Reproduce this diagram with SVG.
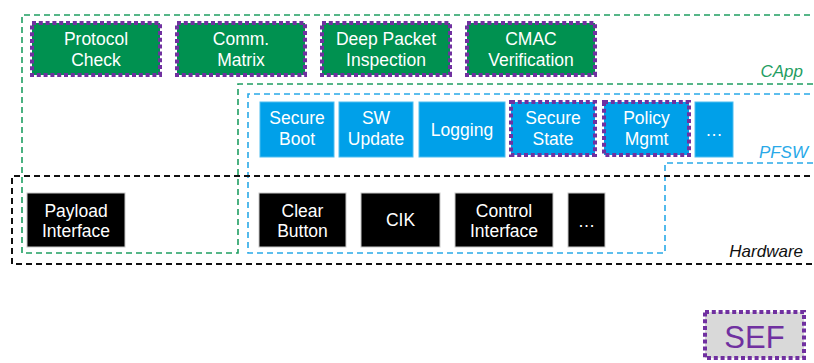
<svg xmlns="http://www.w3.org/2000/svg" width="814" height="363" viewBox="0 0 814 363">
<style>
.bg{fill:#fff}
.lyr{fill:none;stroke-dasharray:6 4}
.capp{stroke:#1f9e62;stroke-width:1.6}
.pfsw{stroke:#29a9e8;stroke-width:1.6}
.hw{stroke:#111;stroke-width:2}
.green{fill:#009150}
.blue{fill:#00a0e9;stroke:#4cbdf0;stroke-width:1}
.black{fill:#000;stroke:#c8c8c8;stroke-width:1}
.sef{stroke:#7030a0;stroke-width:4;stroke-dasharray:4 2.8}
.t{font-family:"Liberation Sans",Arial,sans-serif;font-size:17.5px;fill:#fff;text-anchor:middle}
.lbl{font-family:"Liberation Sans",Arial,sans-serif;font-size:17px;font-style:italic;text-anchor:end}
</style>
<rect class="bg" x="0" y="0" width="814" height="363"/>
<g id="layers">
<path id="capp-area" class="lyr capp" d="M820,15 H22 V253 H238 V84 H820"/>
<path id="pfsw-area" class="lyr pfsw" d="M820,94 H248 V253 H665 V163 H820"/>
<path id="hw-area" class="lyr hw" d="M820,176 H12 V264 H820"/>
<text class="lbl" x="803" y="77" fill="#1f9e62">CApp</text>
<text class="lbl" x="808" y="158" fill="#29a9e8">PFSW</text>
<text class="lbl" x="803" y="257" fill="#111">Hardware</text>
</g>
<g id="connectors"></g>
<g id="protocol-check"><rect class="green sef" x="32" y="23" width="128" height="52"/><text class="t" x="96" y="45">Protocol</text><text class="t" x="96" y="66">Check</text></g>
<g id="comm-matrix"><rect class="green sef" x="177" y="23" width="128" height="52"/><text class="t" x="241" y="45">Comm.</text><text class="t" x="241" y="66">Matrix</text></g>
<g id="dpi"><rect class="green sef" x="322" y="23" width="128" height="52"/><text class="t" x="386" y="45">Deep Packet</text><text class="t" x="386" y="66">Inspection</text></g>
<g id="cmac"><rect class="green sef" x="467" y="23" width="128" height="52"/><text class="t" x="531" y="45">CMAC</text><text class="t" x="531" y="66">Verification</text></g>
<g id="secure-boot"><rect class="blue" x="260" y="102" width="74" height="55"/><text class="t" x="297" y="124">Secure</text><text class="t" x="297" y="145">Boot</text></g>
<g id="sw-update"><rect class="blue" x="339" y="102" width="74" height="55"/><text class="t" x="376" y="124">SW</text><text class="t" x="376" y="145">Update</text></g>
<g id="logging"><rect class="blue" x="419" y="102" width="86" height="55"/><text class="t" x="462" y="136">Logging</text></g>
<g id="secure-state"><rect class="blue sef" x="511" y="102" width="84" height="53"/><text class="t" x="553" y="124">Secure</text><text class="t" x="553" y="145">State</text></g>
<g id="policy-mgmt"><rect class="blue sef" x="604" y="102" width="85" height="53"/><text class="t" x="646.5" y="124">Policy</text><text class="t" x="646.5" y="145">Mgmt</text></g>
<g id="pfsw-more"><rect class="blue" x="695" y="102" width="38" height="55"/><text class="t" x="714" y="136">…</text></g>
<g id="payload-interface"><rect class="black" x="27" y="193" width="98" height="54"/><text class="t" x="76" y="217">Payload</text><text class="t" x="76" y="237">Interface</text></g>
<g id="clear-button"><rect class="black" x="259" y="193" width="87" height="54"/><text class="t" x="302.5" y="217">Clear</text><text class="t" x="302.5" y="237">Button</text></g>
<g id="cik"><rect class="black" x="361" y="193" width="79" height="54"/><text class="t" x="400.5" y="226">CIK</text></g>
<g id="control-interface"><rect class="black" x="455" y="193" width="98" height="54"/><text class="t" x="504" y="217">Control</text><text class="t" x="504" y="237">Interface</text></g>
<g id="hw-more"><rect class="black" x="568" y="193" width="37" height="54"/><text class="t" x="586.5" y="227">…</text></g>
<g id="sef-legend"><rect class="sef" x="705" y="312" width="99" height="46" fill="#d9d9d9"/><text x="754.5" y="348" font-family="'Liberation Sans',Arial,sans-serif" font-size="31" fill="#7030a0" text-anchor="middle">SEF</text></g>
</svg>
